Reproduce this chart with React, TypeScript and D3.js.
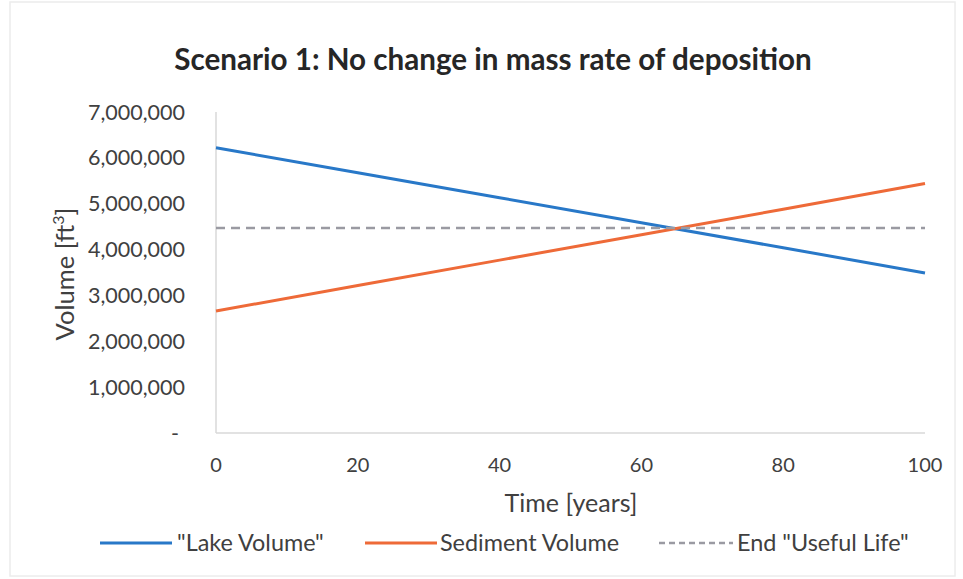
import React from "react";
import * as d3 from "d3";

const years = [0, 20, 40, 60, 80, 100];
const lakeVolume = [6220000, 5675000, 5130000, 4585000, 4040000, 3490000];
const sedimentVolume = [2660000, 3215000, 3770000, 4325000, 4880000, 5440000];
const usefulLife = [4470000, 4470000, 4470000, 4470000, 4470000, 4470000];
const yTicks = [0, 1000000, 2000000, 3000000, 4000000, 5000000, 6000000, 7000000];
const xTicks = [0, 20, 40, 60, 80, 100];
const seriesNames = ['"Lake Volume"', "Sediment Volume", 'End "Useful Life"'];

const W = 963;
const H = 579;
const FONT = "Lato, 'Open Sans', sans-serif";

export default function App() {
  const x = d3.scaleLinear().domain([0, 100]).range([216, 925]);
  const y = d3.scaleLinear().domain([0, 7000000]).range([433, 112]);
  const line = d3
    .line<number>()
    .x((_, i) => x(years[i]))
    .y((d) => y(d));
  const fmt = d3.format(",");
  const colors = ["#2878C8", "#EE6A38", "#9A9AA2"];
  const series = [lakeVolume, sedimentVolume, usefulLife];
  const legend = [
    { x1: 100, x2: 172, tx: 177 },
    { x1: 365, x2: 437, tx: 440 },
    { x1: 659, x2: 733, tx: 737 },
  ];
  return (
    <svg
      width={W}
      height={H}
      style={{ position: "absolute", left: 0, top: 0, background: "#fff" }}
      fontFamily={FONT}
    >
      <rect x={10} y={2} width={945} height={574} fill="#fff" stroke="#ececec" strokeWidth={1.5} />
      <text x={493} y={70} textAnchor="middle" fontSize={29.6} fontWeight="bold" fill="#262626">
        Scenario 1: No change in mass rate of deposition
      </text>
      <line x1={x(0)} x2={x(0)} y1={y(7000000)} y2={y(0)} stroke="#d9d9d9" strokeWidth={1.5} />
      <line x1={x(0)} x2={x(100)} y1={y(0)} y2={y(0)} stroke="#d9d9d9" strokeWidth={1.5} />
      {yTicks.map((t) => (
        <text
          key={t}
          x={t === 0 ? 175 : 185}
          y={y(t)}
          dy="0.35em"
          textAnchor={t === 0 ? "middle" : "end"}
          fontSize={21.5}
          fill="#404040"
        >
          {t === 0 ? "-" : fmt(t)}
        </text>
      ))}
      {xTicks.map((t) => (
        <text key={t} x={x(t)} y={472} textAnchor="middle" fontSize={20} fill="#404040">
          {t}
        </text>
      ))}
      <text x={571} y={512} textAnchor="middle" fontSize={25} fill="#404040">
        Time [years]
      </text>
      <text
        transform={`translate(74,274) rotate(-90)`}
        textAnchor="middle"
        fontSize={25.5}
        fill="#404040"
      >
        Volume [ft<tspan fontSize={16} dy={-10}>3</tspan>
        <tspan dy={10}>]</tspan>
      </text>
      {series.map((s, i) => (
        <path
          key={i}
          d={line(s) || ""}
          fill="none"
          stroke={colors[i]}
          strokeWidth={i === 2 ? 2.5 : 3}
          strokeDasharray={i === 2 ? "9,6" : undefined}
        />
      ))}
      {legend.map((l, i) => (
        <g key={i}>
          <line
            x1={l.x1}
            x2={l.x2}
            y1={543}
            y2={543}
            stroke={colors[i]}
            strokeWidth={i === 2 ? 2.5 : 3}
            strokeDasharray={i === 2 ? "6,4" : undefined}
          />
          <text x={l.tx} y={543} dy="0.35em" fontSize={23.4} fill="#404040">
            {seriesNames[i]}
          </text>
        </g>
      ))}
    </svg>
  );
}
